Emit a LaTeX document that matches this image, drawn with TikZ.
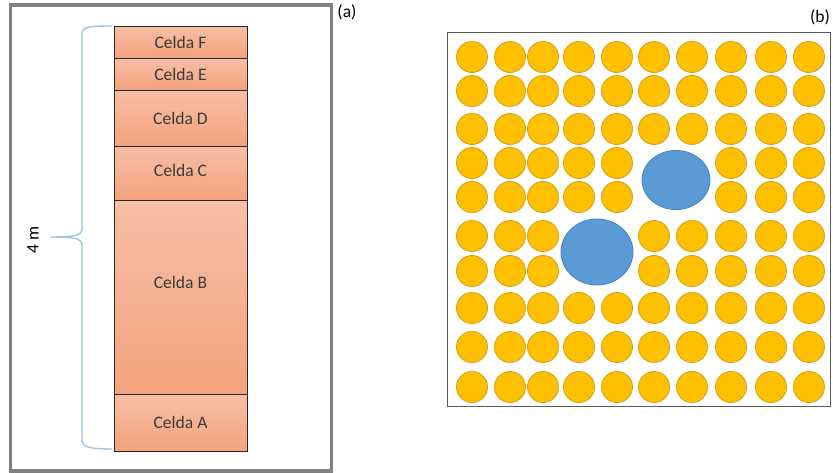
\documentclass[tikz,border=0pt]{standalone}
\usepackage{fontspec}
\setmainfont{Carlito}
\usepackage{tikz}
\usetikzlibrary{shapes.geometric}

\definecolor{framegray}{HTML}{7F7F7F}
\definecolor{celltop}{HTML}{F6BFA5}
\definecolor{cellbot}{HTML}{F4A37D}
\definecolor{celltext}{HTML}{3B3B3B}
\definecolor{bracecol}{HTML}{9DC3E6}
\definecolor{beadfill}{HTML}{FFC000}
\definecolor{beadline}{HTML}{D6A21A}
\definecolor{voidfill}{HTML}{5B9BD5}
\definecolor{voidline}{HTML}{4A86BE}

\begin{document}
\begin{tikzpicture}[x=0.02cm, y=-0.02cm,
                    cell/.style={rectangle,draw=black!85,line width=0.5pt,
                      top color=celltop,bottom color=cellbot,
                      minimum width=2.66cm,inner sep=0pt,
                      text=celltext,font=\fontsize{10}{12}\selectfont},
                    bead/.style={circle,draw=beadline,fill=beadfill,line width=0.5pt,
                      minimum size=0.62cm,inner sep=0pt},
                    void/.style={ellipse,draw=voidline,fill=voidfill,line width=0.5pt,inner sep=0pt},
                    tag/.style={font=\fontsize{10}{12}\selectfont}]
  \useasboundingbox (0,0) rectangle (833,473);

  % (a) column of cells
  \draw[framegray,line width=2pt] (10.5,5) rectangle (331.5,471);
  \node[tag] (taga) at (347,12) {(a)};

  \node[cell,minimum height=0.64cm] (cellF) at (180.5,42) {Celda F};
  \node[cell,minimum height=0.64cm] (cellE) at (180.5,74) {Celda E};
  \node[cell,minimum height=1.12cm] (cellD) at (180.5,118) {Celda D};
  \node[cell,minimum height=1.08cm] (cellC) at (180.5,173) {};
  \node[text=celltext,font=\fontsize{10}{12}\selectfont] (textC) at (180.5,170) {Celda C};
  \node[cell,minimum height=3.88cm] (cellB) at (180.5,297) {};
  \node[text=celltext,font=\fontsize{10}{12}\selectfont] (textB) at (180.5,282) {Celda B};
  \node[cell,minimum height=1.14cm] (cellA) at (180.5,422.5) {Celda A};

  % brace with the height
  \draw[bracecol,line width=0.8pt]
    (112,26) .. controls (90,26) and (82,27) .. (82,33) -- (82,229)
    .. controls (82,236) and (72,237) .. (50,237)
    (50,237) .. controls (72,237) and (82,238) .. (82,245) -- (82,441)
    .. controls (82,447) and (90,449) .. (112,449);
  \node[tag,rotate=90] (height) at (33,240) {4 m};

  % (b) packed beads with two voids
  \draw[black!65,line width=0.6pt] (447.3,32.7) rectangle (830.7,406.7);
  \node[tag] (tagb) at (820,17) {(b)};

  \foreach \y [count=\r] in {57,91,129,163,197,236,271,308,347,387} {
    \foreach \x [count=\c] in {472,510,543,579,617,654,692,731,771,809} {
      \pgfmathtruncatemacro\gap{((\r==4||\r==5)&&(\c==6||\c==7))||((\r==6||\r==7)&&(\c==4||\c==5))}
      \ifnum\gap=0
        \node[bead] (b-\r-\c) at (\x,\y) {};
      \fi
    }
  }

  \node[void,minimum width=1.36cm,minimum height=1.18cm] (voidup) at (676,180) {};
  \node[void,minimum width=1.44cm,minimum height=1.32cm] (voiddown) at (597,252) {};
\end{tikzpicture}
\end{document}
